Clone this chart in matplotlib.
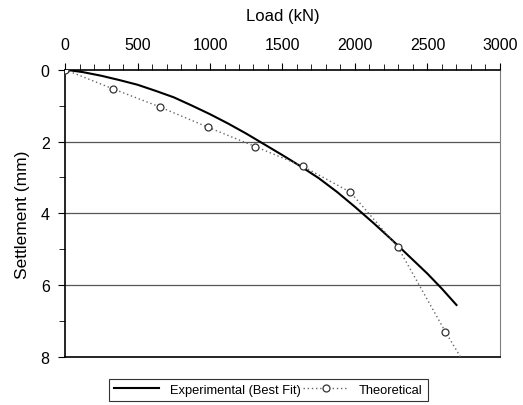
import matplotlib.pyplot as plt
from matplotlib.ticker import MultipleLocator

plt.rcParams['font.family'] = ['Liberation Sans', 'DejaVu Sans']

# experimental best fit curve (load kN, settlement mm)
exp_load = [0, 125, 250, 375, 500, 625, 750, 875, 1000, 1125, 1250, 1375, 1500,
            1625, 1750, 1875, 2000, 2125, 2250, 2375, 2500, 2600, 2700]
exp_settle = [0, 0.07, 0.17, 0.29, 0.42, 0.59, 0.77, 1.0, 1.24, 1.5, 1.78, 2.08, 2.38,
              2.69, 3.02, 3.4, 3.82, 4.26, 4.72, 5.2, 5.68, 6.1, 6.55]

# theoretical points
th_load = [0, 328, 656, 984, 1312, 1640, 1968, 2296, 2624, 2952]
th_settle = [0, 0.53, 1.04, 1.60, 2.14, 2.69, 3.41, 4.94, 7.30, 9.5]

fig = plt.figure(figsize=(5.23, 4.06), dpi=100)
ax = fig.add_axes([0.1243, 0.118, 0.8317, 0.708])

for yv in [2, 4, 6]:
    ax.axhline(yv, color='#555555', lw=0.9, zorder=1)

ax.plot(exp_load, exp_settle, color='black', lw=1.5, label='Experimental (Best Fit)', zorder=3)
ax.plot(th_load, th_settle, color='#666666', lw=1, linestyle=(0, (1, 2)),
        marker='o', markersize=5, markerfacecolor='white', markeredgecolor='#333333',
        markeredgewidth=0.9, label='Theoretical', zorder=4)

ax.set_xlim(0, 3000)
ax.set_ylim(8, 0)
ax.xaxis.set_major_locator(MultipleLocator(500))
ax.xaxis.set_minor_locator(MultipleLocator(100))
ax.yaxis.set_major_locator(MultipleLocator(2))
ax.yaxis.set_minor_locator(MultipleLocator(1))
ax.xaxis.tick_top()
ax.xaxis.set_label_position('top')
ax.tick_params(axis='x', which='major', direction='out', length=5, labelsize=11.5, pad=8)
ax.tick_params(axis='x', which='minor', direction='out', length=4)
ax.tick_params(axis='y', which='major', direction='out', length=5, labelsize=11.5, pad=6)
ax.tick_params(axis='y', which='minor', direction='out', length=4)
ax.set_xlabel('Load (kN)', fontsize=12, labelpad=12)
ax.set_ylabel('Settlement (mm)', fontsize=12.5, labelpad=8)

ax.spines['right'].set_color('#808080')
ax.spines['top'].set_linewidth(1.2)
ax.spines['left'].set_linewidth(1.2)
ax.spines['bottom'].set_linewidth(1.2)

leg = fig.legend(loc='center', bbox_to_anchor=(0.513, 0.037), ncol=2, fontsize=9.3,
                 frameon=True, fancybox=False, edgecolor='black', handlelength=3.5,
                 columnspacing=0.2, handletextpad=0.8, borderpad=0.4)
leg.get_frame().set_linewidth(0.8)

fig.savefig('out.png', dpi=100)
